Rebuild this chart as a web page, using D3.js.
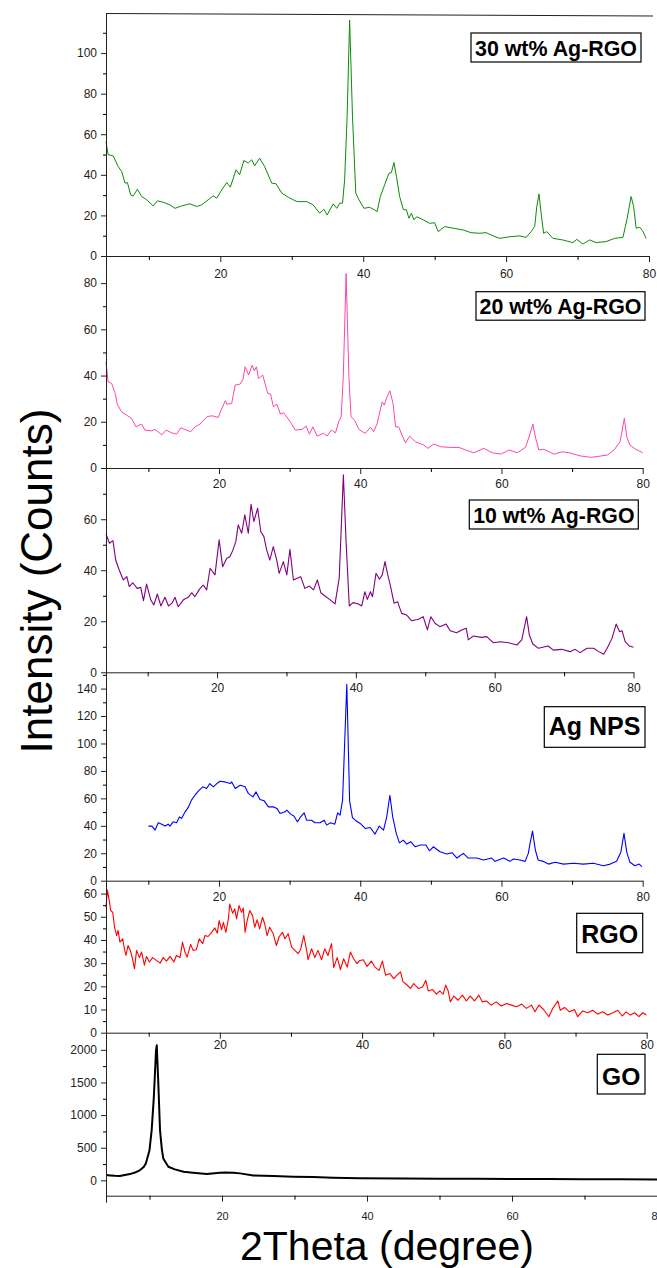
<!DOCTYPE html>
<html><head><meta charset="utf-8">
<script src="https://cdn.jsdelivr.net/npm/d3@7"></script>
<style>body{margin:0;background:#fff}svg{display:block}</style>
</head><body><svg id="c" width="657" height="1268"></svg>
<script>
// ---- data: [2theta, intensity] ----
const ag30 = [[4.0,56.4],[4.3,49.9],[5.0,49.4],[5.7,44.1],[6.2,41.6],[6.66,35.9],[7.0,36.2],[7.45,30.1],[7.8,29.6],[8.4,32.9],[9.0,29.3],[9.7,27.7],[10.6,24.7],[11.2,27.2],[12.0,26.5],[12.95,25.2],[13.65,23.5],[14.6,24.7],[15.75,25.7],[16.7,24.4],[17.4,25.2],[18.3,27.7],[19.0,29.6],[19.5,28.5],[20.2,32.6],[20.9,36.2],[21.4,33.9],[22.2,42.5],[22.7,40.0],[23.3,47.1],[23.9,45.8],[24.4,47.4],[24.8,44.4],[25.5,48.2],[26.2,44.1],[27.2,35.9],[27.8,35.6],[28.6,31.0],[29.5,29.0],[30.2,27.7],[30.75,26.8],[32.1,26.8],[33.0,25.2],[33.9,21.1],[34.5,23.0],[34.95,20.2],[35.8,25.7],[36.3,23.5],[36.7,26.0],[37.1,26.0],[37.4,37.5],[37.75,68.8],[38.1,116.2],[38.5,68.8],[38.96,31.0],[39.4,27.7],[40.1,23.5],[40.9,24.0],[41.6,22.7],[41.95,21.9],[42.4,29.3],[43.0,35.1],[43.6,40.8],[43.95,41.1],[44.3,46.1],[44.65,39.2],[45.1,29.3],[45.6,23.0],[46.05,22.7],[46.4,18.6],[46.75,21.1],[47.1,17.8],[47.5,19.4],[48.4,17.8],[49.3,16.1],[50.0,16.4],[50.5,12.0],[51.4,14.5],[52.6,13.7],[54.0,12.8],[55.1,11.5],[56.3,11.2],[57.2,11.5],[58.2,9.9],[59.1,8.7],[60.5,9.5],[61.9,9.9],[62.8,9.2],[63.5,12.0],[64.0,14.5],[64.3,24.4],[64.6,30.6],[64.9,21.1],[65.25,11.2],[65.7,12.0],[66.55,8.7],[67.95,7.9],[69.35,6.6],[69.9,8.2],[70.75,5.9],[71.7,7.9],[72.6,6.6],[74.0,7.1],[75.2,8.7],[76.35,9.2],[76.9,17.8],[77.5,29.3],[77.85,24.4],[78.2,13.7],[78.7,14.2],[79.1,12.5],[79.6,8.7]];

const ag20 = [[4.0,45.9],[4.3,37.3],[4.8,36.6],[5.3,32.3],[5.6,27.6],[6.2,24.3],[6.9,22.9],[7.6,21.5],[8.25,17.8],[9.05,19.0],[9.5,16.4],[10.5,16.1],[10.95,16.7],[11.9,14.3],[12.5,16.4],[13.3,15.2],[14.0,14.7],[14.6,17.4],[15.4,16.4],[16.0,15.7],[16.6,17.8],[17.3,19.0],[18.3,22.2],[19.0,22.6],[19.9,21.9],[20.3,25.1],[20.9,29.1],[21.1,27.6],[21.8,27.9],[22.3,35.9],[23.0,36.3],[23.4,38.3],[23.7,43.8],[24.2,40.2],[24.7,44.5],[25.0,42.0],[25.3,43.8],[25.6,38.7],[26.2,40.2],[26.9,32.3],[27.3,32.0],[27.7,26.5],[28.2,27.6],[28.7,23.3],[29.15,23.9],[30.1,20.0],[30.8,16.4],[31.75,16.7],[32.35,18.1],[32.8,14.6],[33.3,17.8],[33.9,13.8],[34.8,15.0],[35.3,13.8],[35.9,16.4],[36.5,15.2],[36.95,20.0],[37.3,22.2],[37.6,39.4],[38.0,84.1],[38.4,39.4],[38.7,22.2],[39.2,20.7],[39.8,16.7],[40.7,15.0],[41.45,17.6],[41.9,15.7],[42.4,19.3],[43.1,28.6],[43.4,27.2],[43.8,30.8],[44.2,33.4],[44.65,27.9],[45.0,17.8],[45.45,17.8],[45.9,14.3],[46.4,10.9],[47.0,13.8],[47.8,11.4],[49.0,9.9],[49.55,8.5],[50.4,10.4],[51.4,9.2],[52.8,8.9],[54.0,8.9],[54.9,7.8],[56.1,6.6],[57.5,8.5],[58.7,6.6],[59.9,6.0],[61.1,7.8],[62.25,6.6],[63.4,8.9],[64.0,14.3],[64.45,19.0],[64.85,12.8],[65.3,7.8],[66.0,8.1],[67.45,6.0],[68.6,7.0],[69.6,6.6],[71.2,5.2],[72.65,4.6],[74.1,5.2],[75.0,5.6],[75.95,7.8],[76.8,11.4],[77.4,21.5],[77.75,13.5],[78.2,9.9],[79.0,8.1],[80.0,6.6]];

const ag10 = [[4.0,54.2],[4.5,50.6],[5.0,51.6],[5.4,44.0],[5.9,40.1],[6.5,36.2],[7.0,37.5],[7.35,33.6],[7.85,35.1],[8.5,32.9],[9.0,33.3],[9.4,28.1],[9.85,34.6],[10.45,28.4],[10.9,26.4],[11.4,30.7],[11.9,26.0],[12.5,29.4],[13.0,26.0],[13.5,27.1],[13.95,29.4],[14.4,25.7],[15.15,28.4],[15.85,29.4],[16.35,31.2],[16.8,29.6],[17.45,32.5],[18.0,34.2],[18.5,32.3],[19.0,40.8],[19.7,38.2],[20.3,51.9],[20.8,41.4],[21.4,44.7],[21.85,45.3],[22.25,47.7],[22.7,51.2],[23.05,57.8],[23.55,54.5],[24.0,61.7],[24.5,54.5],[24.9,65.9],[25.3,59.1],[25.85,64.3],[26.3,55.1],[26.75,53.2],[27.15,48.0],[27.6,44.0],[28.1,49.3],[28.6,44.0],[28.95,38.8],[29.55,43.4],[30.05,38.2],[30.5,48.2],[31.0,36.2],[31.55,36.9],[32.05,37.5],[32.65,32.9],[33.3,33.8],[33.9,32.3],[34.45,36.2],[34.95,31.2],[35.55,29.9],[36.3,28.4],[37.0,26.8],[37.6,36.9],[37.9,57.1],[38.2,77.4],[38.6,50.6],[39.05,26.0],[39.6,27.3],[40.35,26.8],[40.85,26.0],[41.3,31.6],[41.65,28.6],[42.1,31.6],[42.4,29.6],[42.9,38.8],[43.4,36.5],[43.8,38.2],[44.2,43.4],[44.55,38.8],[45.0,33.6],[45.5,27.1],[46.0,27.7],[46.6,23.1],[47.3,22.5],[48.05,20.2],[49.0,20.8],[49.7,21.8],[50.3,16.6],[50.8,21.8],[51.4,19.2],[52.1,17.9],[53.0,18.9],[53.6,16.3],[54.5,15.5],[55.25,16.6],[55.9,17.3],[56.2,12.7],[56.9,14.2],[58.1,13.7],[58.85,14.0],[59.8,11.6],[60.8,12.0],[62.0,11.6],[63.2,10.7],[63.9,12.7],[64.3,17.9],[64.6,21.8],[65.0,14.6],[65.5,11.1],[66.3,9.4],[67.7,10.3],[68.45,8.7],[69.65,9.0],[70.85,8.1],[71.6,9.0],[72.3,7.7],[73.3,9.4],[74.25,9.4],[75.0,8.1],[75.7,7.1],[76.2,9.4],[76.9,13.3],[77.5,18.9],[78.0,15.9],[78.35,16.3],[78.8,12.0],[79.4,10.3],[80.0,9.8]];

const agNPs = [[10.0,39.8],[10.5,39.8],[10.95,36.9],[11.4,42.2],[11.9,41.2],[12.35,39.8],[12.8,41.2],[13.05,39.8],[13.5,42.9],[14.0,42.2],[14.4,46.5],[14.7,45.4],[15.2,50.2],[15.65,53.4],[16.1,58.7],[16.6,62.3],[17.1,65.5],[17.7,68.4],[18.25,67.2],[18.7,70.8],[19.2,68.4],[19.7,70.8],[20.15,72.5],[20.85,72.0],[21.6,70.8],[21.8,72.0],[22.3,67.2],[23.0,69.6],[23.7,68.4],[24.15,63.6],[24.8,61.1],[25.25,64.7],[25.8,59.2],[26.4,58.2],[27.0,53.8],[27.7,53.8],[28.2,52.7],[28.65,49.0],[29.35,50.2],[29.6,51.4],[30.15,48.5],[30.6,47.1],[31.1,42.9],[31.5,46.1],[32.05,49.5],[32.4,44.1],[33.1,44.1],[33.6,42.2],[34.3,42.2],[34.9,44.1],[35.25,40.5],[35.8,42.2],[36.4,41.2],[36.8,49.5],[37.15,47.8],[37.5,58.7],[38.1,143.1],[38.5,58.0],[38.9,46.0],[39.3,44.1],[40.0,41.7],[40.7,38.1],[41.4,38.8],[42.1,34.0],[42.7,39.8],[43.3,36.9],[43.75,46.5],[44.2,62.3],[44.6,46.5],[45.1,34.5],[45.55,27.6],[46.1,29.6],[46.6,26.7],[47.15,28.4],[47.8,24.7],[48.5,26.0],[49.3,26.0],[49.8,21.8],[50.35,24.7],[51.3,21.1],[52.25,19.4],[53.0,20.4],[53.7,16.5],[54.6,19.9],[55.3,16.5],[56.5,16.5],[57.45,15.1],[58.6,16.5],[59.1,14.1],[60.3,16.5],[61.2,14.1],[61.7,15.8],[62.6,15.1],[63.35,14.1],[63.8,19.9],[64.05,27.2],[64.4,36.1],[64.8,22.3],[65.2,15.1],[65.9,14.1],[66.65,12.1],[67.6,13.4],[68.8,12.1],[70.2,12.7],[71.6,12.1],[73.0,12.7],[74.45,10.9],[75.4,12.1],[76.3,14.1],[76.9,20.7],[77.35,34.5],[77.75,20.7],[78.2,13.4],[78.9,10.9],[79.5,12.1],[79.9,10.2]];

const rgo = [[4.0,54.1],[4.2,61.5],[4.5,56.2],[4.65,52.7],[4.95,51.9],[5.2,45.5],[5.5,41.9],[5.7,44.1],[5.95,39.1],[6.35,40.5],[6.5,37.6],[6.8,33.3],[7.1,37.6],[7.45,35.2],[7.75,31.5],[8.0,27.6],[8.3,35.5],[8.7,32.4],[9.0,34.8],[9.4,29.1],[9.7,32.9],[10.1,30.5],[10.55,32.4],[11.1,31.2],[11.6,30.0],[12.05,32.4],[12.5,30.9],[13.0,32.9],[13.55,30.5],[13.9,33.3],[14.4,32.4],[14.75,39.1],[15.1,34.8],[15.4,32.6],[15.9,38.1],[16.25,35.5],[16.7,35.8],[17.1,40.5],[17.6,38.4],[17.9,41.9],[18.35,41.5],[18.85,43.3],[19.3,45.2],[19.65,42.9],[19.9,48.4],[20.25,44.4],[20.5,47.6],[20.85,43.3],[21.2,49.1],[21.4,55.5],[21.8,51.5],[22.1,53.4],[22.35,49.1],[22.7,54.8],[23.05,51.9],[23.3,53.8],[23.55,43.3],[23.85,48.4],[24.2,52.7],[24.6,50.5],[24.9,45.5],[25.25,48.7],[25.6,44.8],[26.0,49.8],[26.3,47.0],[26.65,41.9],[27.0,45.5],[27.5,42.7],[27.95,37.6],[28.35,41.5],[28.8,43.3],[29.15,40.5],[29.6,42.7],[30.1,36.9],[30.55,35.5],[31.0,34.1],[31.35,35.8],[31.8,41.9],[32.2,35.5],[32.4,31.5],[32.9,36.2],[33.35,32.4],[33.8,35.5],[34.3,31.5],[34.75,36.2],[35.2,33.3],[35.7,38.4],[36.0,28.1],[36.5,32.4],[36.95,27.2],[37.4,31.9],[37.9,28.3],[38.35,34.8],[38.8,31.9],[39.3,29.8],[39.6,31.0],[40.15,31.5],[40.7,28.6],[41.3,30.9],[41.8,28.3],[42.4,26.9],[42.85,30.9],[43.3,24.8],[43.9,25.5],[44.45,23.3],[44.9,24.8],[45.4,26.2],[45.75,21.9],[46.2,20.9],[46.8,19.1],[47.25,21.2],[47.9,19.1],[48.5,19.7],[48.95,22.6],[49.3,18.0],[49.9,18.6],[50.45,16.6],[50.9,18.0],[51.4,16.6],[51.75,20.5],[52.1,18.0],[52.4,13.3],[52.9,15.8],[53.5,14.0],[54.1,16.2],[54.65,13.7],[55.2,15.8],[55.8,13.7],[56.4,16.2],[56.9,13.3],[57.45,13.7],[58.15,11.9],[58.85,13.3],[59.55,11.5],[60.3,12.6],[61.0,11.9],[61.7,11.2],[62.4,12.3],[63.1,10.5],[63.8,11.9],[64.3,9.0],[64.85,11.9],[65.5,10.0],[66.25,6.9],[66.8,10.5],[67.5,13.7],[67.85,9.7],[68.45,10.9],[69.15,9.0],[69.85,10.0],[70.3,6.9],[71.0,9.4],[71.7,8.6],[72.4,9.7],[73.1,8.0],[73.8,9.0],[74.55,7.6],[75.25,8.6],[75.95,9.7],[76.55,7.2],[77.1,9.0],[77.7,7.6],[78.3,8.6],[78.9,6.9],[79.45,8.6],[79.95,7.6]];

const go = [[4.0,81],[4.6,75],[5.2,70],[5.9,66],[6.6,82],[7.3,96],[8.0,120],[8.7,157],[9.2,205],[9.5,260],[10.0,463],[10.3,769],[10.6,1279],[10.9,1993],[11.0,2069],[11.2,1534],[11.45,769],[11.7,480],[11.9,336],[12.6,208],[13.5,168],[14.7,131],[16.0,116],[17.9,96],[19.7,116],[20.5,120],[21.6,116],[22.5,107],[24.3,76],[27.1,66],[29.8,55],[32.6,50],[35.3,40],[39.0,31],[45,28],[50,25],[55,24],[60,22],[65,20],[70,18],[75,16],[80,15]];

// ---- ticks & labels ----
const xMajor = [20,40,60,80], xMinor = [10,30,50,70];
const yMaj30 = [0,20,40,60,80,100], yMin30 = [10,30,50,70,90,110];
const yMaj20 = [0,20,40,60,80], yMin20 = [10,30,50,70];
const yMaj10 = [0,20,40,60], yMin10 = [10,30,50,70];
const yMajAg = [0,20,40,60,80,100,120,140], yMinAg = [10,30,50,70,90,110,130,150];
const yMajRGO = [0,10,20,30,40,50,60], yMinRGO = [5,15,25,35,45,55];
const yMajGO = [0,500,1000,1500,2000], yMinGO = [250,750,1250,1750];
const names = ["30 wt% Ag-RGO","20 wt% Ag-RGO","10 wt% Ag-RGO","Ag NPS","RGO","GO"];
const colors = ["#0b8c0b","#ff45a8","#800080","#0000ff","#ff0000","#000000"];

const FONT = "'Liberation Sans', Arial, Helvetica, sans-serif";
const svg = d3.select("#c");

const panels = [
  {data:ag30, top:13.5, bottom:256, right:649, yDom:[0,119.5], yMaj:yMaj30, yMin:yMin30, xlab:18, xfs:12, box:[471,33,170,29], fs:21.4, base:56, sw:1},
  {data:ag20, top:260, bottom:468, right:642.7, yDom:[0,90], yMaj:yMaj20, yMin:yMin20, xlab:15.5, xfs:12, box:[476,291.7,169,28.5], fs:21.4, base:314, sw:1},
  {data:ag10, top:470, bottom:672.3, right:633.5, yDom:[0,79.3], yMaj:yMaj10, yMin:yMin10, xlab:16, xfs:12, box:[469.3,500,169,29], fs:21.3, base:522.7, sw:1.1},
  {data:agNPs, top:673.5, bottom:880.7, right:642.7, yDom:[0,151], yMaj:yMajAg, yMin:yMinAg, xlab:16, xfs:12, box:[544.3,706.7,100.7,40.6], fs:25, base:735, sw:1.1},
  {data:rgo, top:882, bottom:1032.7, right:646.7, yDom:[0,65], yMaj:yMajRGO, yMin:yMinRGO, xlab:12.5, xfs:12, box:[576.7,913.3,66,39.4], fs:25, base:942.7, sw:1.1},
  {data:go, top:1033.5, bottom:1195.7, right:657, yDom:[-235,2250], yMaj:yMajGO, yMin:yMinGO, xlab:20.5, xfs:11, box:[597.3,1054.3,47.7,39.7], fs:24.6, base:1085, sw:2}
];

panels.forEach((p,i) => {
  const x = d3.scaleLinear().domain([4,80]).range([106,p.right]);
  const y = d3.scaleLinear().domain(p.yDom).range([p.bottom,p.top]);
  const g = svg.append("g");

  g.append("path").datum(p.data)
    .attr("d", d3.line().x(d=>x(d[0])).y(d=>y(d[1])))
    .attr("fill","none").attr("stroke",colors[i]).attr("stroke-width",p.sw)
    .attr("stroke-linejoin","round");

  // y axis
  const ya = g.append("g").attr("transform","translate(106,0)")
    .call(d3.axisLeft(y).tickValues(p.yMaj).tickSize(5).tickSizeOuter(0).tickPadding(4).tickFormat(d3.format("d")));
  g.append("g").attr("transform","translate(106,0)")
    .call(d3.axisLeft(y).tickValues(p.yMin).tickSize(3).tickSizeOuter(0).tickFormat(""))
    .select(".domain").remove();
  g.append("line").attr("x1",106.5).attr("x2",106.5).attr("y1",p.bottom).attr("y2",p.bottom+7).attr("stroke","#222");

  // x axis
  const pad = p.xlab - 6 - 0.36*p.xfs;
  const xa = g.append("g").attr("transform",`translate(0,${p.bottom})`)
    .call(d3.axisBottom(x).tickValues(xMajor).tickSize(6).tickSizeOuter(0).tickPadding(pad).tickFormat(d3.format("d")));
  g.append("g").attr("transform",`translate(0,${p.bottom})`)
    .call(d3.axisBottom(x).tickValues(xMinor).tickSize(4).tickSizeOuter(0).tickFormat(""))
    .select(".domain").remove();

  ya.attr("font-family",FONT).attr("font-size",12).style("color","#222");
  xa.attr("font-family",FONT).attr("font-size",p.xfs).style("color","#222");

  // label box
  const b = p.box;
  g.append("rect").attr("x",b[0]).attr("y",b[1]).attr("width",b[2]).attr("height",b[3])
    .attr("fill","#fff").attr("stroke","#000").attr("stroke-width",1.2);
  g.append("text").attr("x",b[0]+b[2]/2).attr("y",p.base).attr("text-anchor","middle")
    .attr("font-family",FONT).attr("font-weight","bold").attr("font-size",p.fs)
    .attr("fill","#000").text(names[i]);
});

// top border of first panel
svg.append("line").attr("x1",106).attr("y1",13.5).attr("x2",653).attr("y2",16)
  .attr("stroke","#222").attr("stroke-width",1);

// axis titles
svg.append("text").attr("transform","translate(52,581) rotate(-90)")
  .attr("text-anchor","middle").attr("font-family",FONT).attr("font-size",44)
  .attr("fill","#000").text("Intensity (Counts)");
svg.append("text").attr("x",387).attr("y",1260).attr("text-anchor","middle")
  .attr("font-family",FONT).attr("font-size",41).attr("fill","#000").text("2Theta (degree)");
</script>
</body></html>
